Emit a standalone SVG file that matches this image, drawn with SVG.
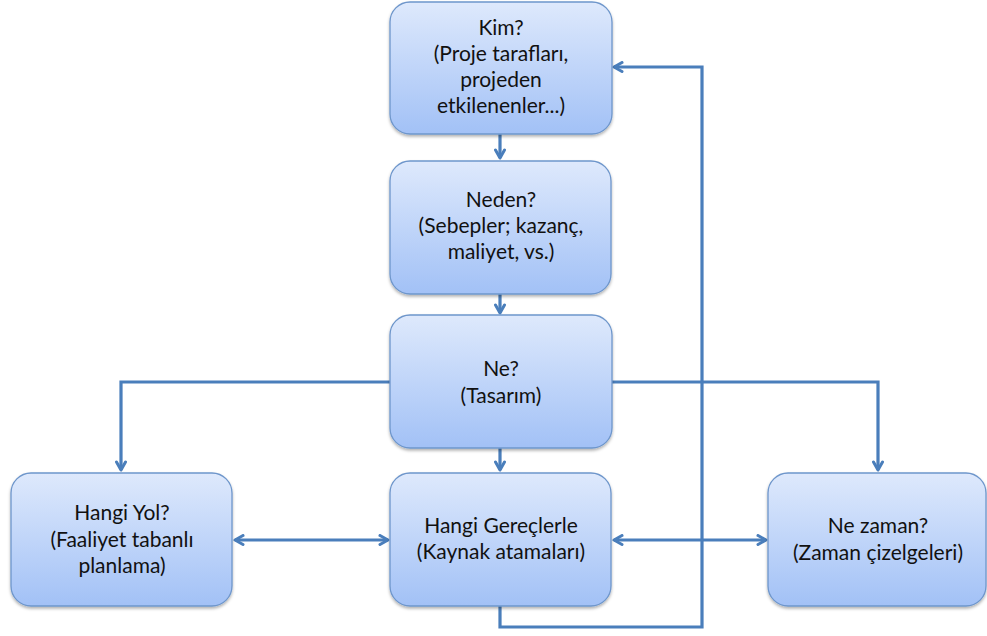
<svg xmlns="http://www.w3.org/2000/svg" width="987" height="636" viewBox="0 0 987 636">
  <defs>
    <linearGradient id="boxFill" x1="0" y1="0" x2="0" y2="1">
      <stop offset="0" stop-color="#dee9fc"/>
      <stop offset="1" stop-color="#a2c1f6"/>
    </linearGradient>
    <filter id="shadow" x="-10%" y="-10%" width="120%" height="125%">
      <feDropShadow dx="0" dy="2" stdDeviation="1.5" flood-color="#000" flood-opacity="0.3"/>
    </filter>
    <marker id="arrow" viewBox="0 0 12 12" refX="10" refY="6" markerWidth="12" markerHeight="12" markerUnits="userSpaceOnUse" orient="auto-start-reverse">
      <path d="M2,1.5 L10,6 L2,10.5" fill="none" stroke="#4a7ebb" stroke-width="3" stroke-linecap="round" stroke-linejoin="round"/>
    </marker>
  </defs>
  <style>
    .box { fill: url(#boxFill); stroke: #6e96cb; stroke-width: 1.3; filter: url(#shadow); }
    .label { font-family: Lato, "Liberation Sans", sans-serif; font-size: 21px; fill: #111; text-anchor: middle; }
    .conn { fill: none; stroke: #4a7ebb; stroke-width: 3.2; stroke-linejoin: miter; }
  </style>

  <rect width="987" height="636" fill="#fff"/>

  <!-- connectors -->
  <g id="connectors">
    <path class="conn" d="M500,134 V158" marker-end="url(#arrow)"/>
    <path class="conn" d="M500,294 V313" marker-end="url(#arrow)"/>
    <path class="conn" d="M500,448 V470" marker-end="url(#arrow)"/>
    <path class="conn" d="M390,382 H121 V470" marker-end="url(#arrow)"/>
    <path class="conn" d="M612,382 H878 V470" marker-end="url(#arrow)"/>
    <path class="conn" d="M235,540 H388" marker-start="url(#arrow)" marker-end="url(#arrow)"/>
    <path class="conn" d="M614,540 H766" marker-start="url(#arrow)" marker-end="url(#arrow)"/>
    <path class="conn" d="M500,606 V627 H702 V67 H614" marker-end="url(#arrow)"/>
  </g>

  <g id="node-kim">
    <rect class="box" x="390" y="2" width="222" height="132" rx="20"/>
    <text class="label" x="501" y="35">Kim?</text>
    <text class="label" x="501" y="61">(Proje tarafları,</text>
    <text class="label" x="501" y="87">projeden</text>
    <text class="label" x="501" y="113">etkilenenler...)</text>
  </g>

  <g id="node-neden">
    <rect class="box" x="390" y="161" width="221" height="133" rx="20"/>
    <text class="label" x="501" y="207">Neden?</text>
    <text class="label" x="501" y="233">(Sebepler; kazanç,</text>
    <text class="label" x="501" y="259">maliyet, vs.)</text>
  </g>

  <g id="node-ne">
    <rect class="box" x="390" y="315" width="222" height="133" rx="20"/>
    <text class="label" x="501" y="376">Ne?</text>
    <text class="label" x="501" y="403">(Tasarım)</text>
  </g>

  <g id="node-hangi-yol">
    <rect class="box" x="11" y="473" width="221" height="133" rx="20"/>
    <text class="label" x="122" y="520">Hangi Yol?</text>
    <text class="label" x="122" y="547">(Faaliyet tabanlı</text>
    <text class="label" x="122" y="573">planlama)</text>
  </g>

  <g id="node-hangi-gerecler">
    <rect class="box" x="390" y="473" width="221" height="133" rx="20"/>
    <text class="label" x="501" y="533">Hangi Gereçlerle</text>
    <text class="label" x="501" y="559">(Kaynak atamaları)</text>
  </g>

  <g id="node-ne-zaman">
    <rect class="box" x="768" y="473" width="218" height="133" rx="20"/>
    <text class="label" x="878" y="533">Ne zaman?</text>
    <text class="label" x="878" y="560">(Zaman çizelgeleri)</text>
  </g>
</svg>
